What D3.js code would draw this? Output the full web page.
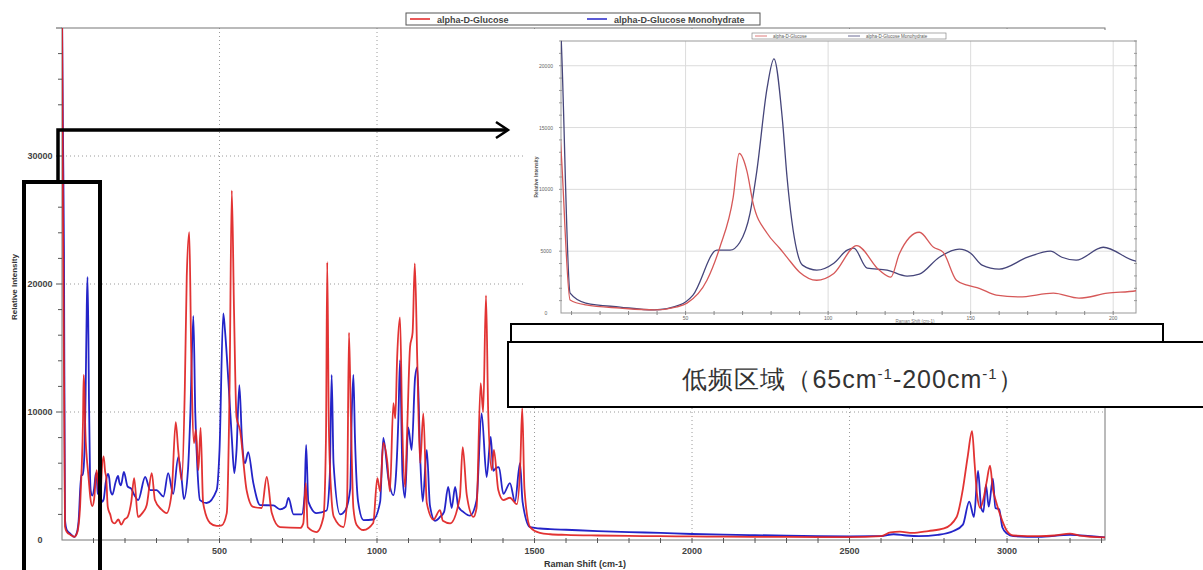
<!DOCTYPE html>
<html>
<head>
<meta charset="utf-8">
<script src="https://cdn.jsdelivr.net/npm/d3@7"></script>
<style>
  body { margin: 0; background: #fff; }
  svg text { font-family: "Liberation Sans", Arial, sans-serif; }
</style>
</head>
<body>
<svg id="chart" width="1203" height="570"></svg>
<script>
// Raman spectra, [shift cm-1, relative intensity]
const glucose = [
  [0, 42000], [3, 26000], [6.5, 12500], [9.5, 1050], [15, 650], [27, 400], [39, 250], [47, 500],
  [50.5, 800], [57.5, 2650], [62, 5300], [66.7, 9350], [68.8, 12900], [71.5, 11500], [73.7, 8870],
  [78.6, 6450], [83, 5240], [85.6, 4500], [90, 3300], [96, 2650], [102, 3200], [110, 5450],
  [118, 3450], [122, 2900], [125, 4800], [132, 6530], [137, 5320], [140.4, 4900], [145, 2650],
  [148.8, 2250], [153, 2000], [159, 1450], [167, 1300], [179, 1600], [188, 1200], [198, 1600],
  [208, 1800], [220, 3000], [229, 4840], [241, 1800], [255, 2100], [269, 2730], [285, 5230],
  [295, 3120], [315, 2400], [332, 2100], [348, 3670], [361, 9200], [369, 7000], [380, 4690],
  [390, 12000], [396, 20540], [404, 24050], [410, 15000], [419, 7580], [425, 8600], [433, 5470],
  [440, 8750], [448, 2900], [470, 1330], [491, 1100], [507, 1150], [523, 2100], [532, 12000],
  [539, 27300], [546, 18000], [554, 9600], [565, 8600], [586, 3900], [607, 2580], [634, 2500],
  [650, 4920], [666, 2100], [692, 1000], [756, 940], [766, 1300], [774, 4450], [780, 1000],
  [808, 620], [830, 1800], [838, 8000], [842, 21700], [847, 9000], [855, 3500], [863, 1800],
  [893, 1000], [905, 3000], [911, 16200], [917, 9600], [925, 2500], [935, 1200], [957, 780],
  [988, 1330], [1001, 4840], [1010, 3800], [1020, 7580], [1033, 6000], [1041, 3800], [1052, 10700],
  [1058, 9500], [1064, 14300], [1073, 17400], [1080, 9000], [1089, 4140], [1095, 8000], [1105, 15100],
  [1113, 16200], [1120, 21600], [1128, 13800], [1137, 6000], [1147, 9900], [1158, 2900], [1179, 1600],
  [1200, 2340], [1209, 1500], [1232, 1300], [1263, 3360], [1272, 7260], [1285, 3500], [1306, 1800],
  [1316, 2500], [1329, 12260], [1337, 10000], [1346, 19100], [1353, 10000], [1364, 5470], [1371, 7030],
  [1385, 3900], [1401, 3120], [1422, 3300], [1444, 2800], [1455, 6000], [1461, 10300], [1468, 4000],
  [1486, 1000], [1517, 550], [1550, 450], [1600, 400], [1700, 350], [1800, 320], [1900, 300],
  [2000, 280], [2100, 260], [2200, 250], [2300, 240], [2400, 230], [2500, 230], [2600, 300],
  [2630, 600], [2660, 650], [2700, 550], [2750, 700], [2800, 900], [2840, 1800], [2860, 4000],
  [2875, 6500], [2889, 8500], [2897, 6000], [2905, 3500], [2915, 2500], [2925, 3200], [2935, 4500],
  [2946, 5800], [2955, 4000], [2965, 3000], [2975, 2200], [2985, 1500], [3000, 700], [3020, 350],
  [3100, 300], [3150, 350], [3200, 500], [3230, 350], [3311, 200]
];
const monohydrate = [
  [0, 42000], [3, 32000], [6.3, 22500], [9.5, 1600], [15, 800], [27, 480], [39, 250], [48, 650],
  [52.6, 1450], [61, 5080], [65.6, 5080], [69, 5700], [72.6, 8060], [75, 11500], [78.6, 18200],
  [81, 20550], [83.9, 15800], [85.6, 10960], [89, 5080], [91, 3870], [96, 3470], [102, 4030],
  [106.7, 5080], [109, 5240], [113.7, 3630], [120.7, 3470], [127.7, 2980], [132, 3140], [139, 4510],
  [146, 5160], [150, 4840], [154, 3870], [160, 3550], [170, 4510], [178, 5000], [182, 4510],
  [187, 4270], [196.5, 5320], [208, 4190], [220, 4000], [230, 3500], [242, 3120], [264, 4920],
  [280, 3900], [300, 3900], [322, 3400], [337, 5230], [353, 3600], [369, 6480], [380, 4700],
  [387, 3200], [400, 5500], [407, 9500], [417, 17500], [423, 10000], [430, 5500], [438, 3120],
  [459, 2890], [491, 3900], [500, 7000], [512, 17700], [517, 16500], [528, 12500], [539, 8000],
  [547, 5230], [554, 7000], [563, 12100], [571, 8000], [581, 6000], [591, 6870], [607, 4500],
  [629, 2730], [671, 2700], [692, 2400], [710, 2600], [719, 3280], [735, 2000], [761, 2000],
  [770, 3500], [775, 7420], [782, 3000], [808, 2100], [840, 2300], [850, 5000], [856, 12890],
  [862, 6000], [883, 2000], [899, 2300], [915, 4000], [920, 10000], [925, 12890], [930, 8000],
  [940, 3000], [957, 1560], [988, 1600], [1010, 3000], [1020, 7970], [1036, 4840], [1052, 3500],
  [1060, 5000], [1068, 9600], [1073, 14050], [1081, 5000], [1089, 3300], [1099, 8800], [1110, 7030],
  [1121, 12730], [1128, 13500], [1137, 6500], [1145, 3000], [1158, 7030], [1168, 2700], [1184, 1500],
  [1200, 1800], [1213, 2200], [1226, 4140], [1237, 2500], [1248, 4140], [1258, 2600], [1274, 2200],
  [1295, 1900], [1316, 3100], [1332, 9900], [1348, 4920], [1361, 8050], [1369, 5400], [1377, 5600],
  [1387, 5700], [1401, 3600], [1422, 4450], [1438, 3000], [1454, 6000], [1462, 3000], [1486, 1000],
  [1517, 900], [1550, 850], [1600, 800], [1700, 700], [1800, 620], [1900, 550], [2000, 470],
  [2100, 420], [2200, 380], [2300, 340], [2400, 310], [2500, 290], [2600, 300], [2640, 450],
  [2680, 350], [2720, 300], [2780, 400], [2830, 700], [2860, 1200], [2880, 3000], [2895, 1800],
  [2908, 5400], [2918, 2500], [2925, 2200], [2933, 4300], [2942, 2600], [2955, 4800], [2963, 2500],
  [2975, 2400], [2985, 1000], [3000, 500], [3020, 300], [3100, 250], [3200, 400], [3311, 200]
];
const seriesNames = ["alpha-D-Glucose", "alpha-D-Glucose Monohydrate"];
const mainXTicks = [500, 1000, 1500, 2000, 2500, 3000];
const mainYTicks = [0, 10000, 20000, 30000];
const lowXTicks = [50, 100, 150, 200];
const lowYTicks = [0, 5000, 10000, 15000, 20000];
const noteText = ["低频区域（65cm", "-1", "-200cm", "-1", "）"];

const svg = d3.select("#chart");

// ---------- main chart ----------
const x = d3.scaleLinear().domain([0, 3311]).range([62, 1105]);
const y = d3.scaleLinear().domain([0, 40000]).range([540, 28]);

svg.append("defs").append("clipPath").attr("id", "mainClip")
  .append("rect").attr("x", 62).attr("y", 28).attr("width", 1043).attr("height", 512);

// dotted grid
svg.append("g").selectAll("line").data(mainXTicks).join("line")
  .attr("x1", d => x(d)).attr("x2", d => x(d)).attr("y1", 28).attr("y2", 540)
  .attr("stroke", "#9a9a9a").attr("stroke-dasharray", "1,3");
svg.append("g").selectAll("line").data(mainYTicks.filter(d => d > 0)).join("line")
  .attr("x1", 62).attr("x2", 1105).attr("y1", d => y(d)).attr("y2", d => y(d))
  .attr("stroke", "#9a9a9a").attr("stroke-dasharray", "1,3");

// frame
svg.append("rect").attr("x", 62).attr("y", 28).attr("width", 1043).attr("height", 512)
  .attr("fill", "none").attr("stroke", "#777").attr("stroke-width", 1);

// minor ticks
svg.append("g").selectAll("line").data(d3.range(100, 3301, 100)).join("line")
  .attr("x1", d => x(d)).attr("x2", d => x(d)).attr("y1", 538).attr("y2", 543)
  .attr("stroke", "#555");
svg.append("g").selectAll("line").data(d3.range(2000, 40001, 2000)).join("line")
  .attr("x1", d => (d % 10000 === 0 ? 56 : 58)).attr("x2", 62)
  .attr("y1", d => y(d)).attr("y2", d => y(d)).attr("stroke", "#555");

// tick labels
svg.append("g").selectAll("text").data(mainXTicks).join("text")
  .attr("x", d => x(d)).attr("y", 554).attr("text-anchor", "middle")
  .attr("font-size", 9).attr("font-weight", "bold").attr("fill", "#444").text(d => d);
svg.append("g").selectAll("text").data(mainYTicks).join("text")
  .attr("x", 40).attr("y", d => y(d) + 3).attr("text-anchor", "middle")
  .attr("font-size", 9).attr("font-weight", "bold").attr("fill", "#444").text(d => d);

svg.append("text").attr("x", 585).attr("y", 567).attr("text-anchor", "middle")
  .attr("font-size", 9).attr("font-weight", "bold").attr("fill", "#333").text("Raman Shift (cm-1)");
svg.append("text").attr("transform", "translate(17,287) rotate(-90)").attr("text-anchor", "middle")
  .attr("font-size", 8).attr("font-weight", "bold").attr("fill", "#333").text("Relative Intensity");

const mainLine = d3.line().x(d => x(d[0])).y(d => y(d[1])).curve(d3.curveMonotoneX);
const mainG = svg.append("g").attr("clip-path", "url(#mainClip)");
mainG.append("path").datum(monohydrate).attr("d", mainLine)
  .attr("fill", "none").attr("stroke", "#2424c8").attr("stroke-width", 1.8);
mainG.append("path").datum(glucose).attr("d", mainLine)
  .attr("fill", "none").attr("stroke", "#e02222").attr("stroke-width", 1.8).attr("opacity", 0.92);

// legend
const leg = svg.append("g");
leg.append("rect").attr("x", 406).attr("y", 13).attr("width", 354).attr("height", 12)
  .attr("fill", "#fff").attr("stroke", "#555");
[["#e02222", 410, 437], ["#2424c8", 587, 614]].forEach((c, i) => {
  leg.append("line").attr("x1", c[1]).attr("x2", c[1] + 20).attr("y1", 19).attr("y2", 19)
    .attr("stroke", c[0]).attr("stroke-width", 1.5);
  leg.append("text").attr("x", c[2]).attr("y", 22.5).attr("font-size", 9)
    .attr("font-weight", "bold").attr("fill", "#444").text(seriesNames[i]);
});

// ---------- low frequency inset ----------
const ix = d3.scaleLinear().domain([6.3, 208]).range([561, 1136]);
const iy = d3.scaleLinear().domain([0, 22000]).range([313, 41]);
const inset = svg.append("g");
inset.append("rect").attr("x", 524).attr("y", 30).attr("width", 618).attr("height", 294).attr("fill", "#fff");
inset.append("clipPath").attr("id", "lowClip")
  .append("rect").attr("x", 561).attr("y", 41).attr("width", 575).attr("height", 272);

inset.append("g").selectAll("line").data(lowXTicks).join("line")
  .attr("x1", d => ix(d)).attr("x2", d => ix(d)).attr("y1", 41).attr("y2", 313)
  .attr("stroke", "#dcdcdc");
inset.append("g").selectAll("line").data(lowYTicks.filter(d => d > 0)).join("line")
  .attr("x1", 561).attr("x2", 1136).attr("y1", d => iy(d)).attr("y2", d => iy(d))
  .attr("stroke", "#dcdcdc");
inset.append("rect").attr("x", 561).attr("y", 41).attr("width", 575).attr("height", 272)
  .attr("fill", "none").attr("stroke", "#999");
inset.append("g").selectAll("line").data(d3.range(10, 201, 10)).join("line")
  .attr("x1", d => ix(d)).attr("x2", d => ix(d)).attr("y1", 311).attr("y2", 315).attr("stroke", "#888");
inset.append("g").selectAll("line").data(d3.range(1000, 22001, 1000)).join("line")
  .attr("x1", 559).attr("x2", 562).attr("y1", d => iy(d)).attr("y2", d => iy(d)).attr("stroke", "#999");
inset.append("g").selectAll("line").data(d3.range(1000, 22001, 1000)).join("line")
  .attr("x1", 1134).attr("x2", 1137).attr("y1", d => iy(d)).attr("y2", d => iy(d)).attr("stroke", "#999");
inset.append("g").selectAll("text").data(lowXTicks).join("text")
  .attr("x", d => ix(d)).attr("y", 320).attr("text-anchor", "middle")
  .attr("font-size", 5).attr("fill", "#666").text(d => d);
inset.append("g").selectAll("text").data(lowYTicks).join("text")
  .attr("x", 546).attr("y", d => iy(d) + 2).attr("text-anchor", "middle")
  .attr("font-size", 5).attr("fill", "#666").text(d => d);
inset.append("text").attr("transform", "translate(538,177) rotate(-90)").attr("text-anchor", "middle")
  .attr("font-size", 5).attr("font-weight", "bold").attr("fill", "#555").text("Relative Intensity");
inset.append("text").attr("x", 915).attr("y", 322.5).attr("text-anchor", "middle")
  .attr("font-size", 4.5).attr("fill", "#777").text("Raman Shift (cm-1)");

const lowLine = d3.line().x(d => ix(d[0])).y(d => iy(d[1])).curve(d3.curveMonotoneX);
const lowG = inset.append("g").attr("clip-path", "url(#lowClip)");
lowG.append("path").datum(monohydrate.filter(d => d[0] <= 240)).attr("d", lowLine)
  .attr("fill", "none").attr("stroke", "#45457a").attr("stroke-width", 1.3);
lowG.append("path").datum(glucose.filter(d => d[0] <= 240)).attr("d", lowLine)
  .attr("fill", "none").attr("stroke", "#d65858").attr("stroke-width", 1.3);

const ileg = inset.append("g");
ileg.append("rect").attr("x", 752).attr("y", 33).attr("width", 194).attr("height", 6)
  .attr("fill", "#fff").attr("stroke", "#888").attr("stroke-width", 0.7);
[["#d65858", 755, 773], ["#45457a", 848, 866]].forEach((c, i) => {
  ileg.append("line").attr("x1", c[1]).attr("x2", c[1] + 12).attr("y1", 36).attr("y2", 36)
    .attr("stroke", c[0]).attr("stroke-width", 0.8);
  ileg.append("text").attr("x", c[2]).attr("y", 37.8).attr("font-size", 4.5)
    .attr("fill", "#555").text(seriesNames[i]);
});

// ---------- annotation ----------
const note = svg.append("g");
note.append("rect").attr("x", 24).attr("y", 182).attr("width", 76).attr("height", 420)
  .attr("fill", "none").attr("stroke", "#000").attr("stroke-width", 4);
note.append("path").attr("d", "M58,182V130H506")
  .attr("fill", "none").attr("stroke", "#000").attr("stroke-width", 3.5);
note.append("path").attr("d", "M496,122L508,130L496,138")
  .attr("fill", "none").attr("stroke", "#000").attr("stroke-width", 2.5);

note.append("rect").attr("x", 511).attr("y", 324).attr("width", 652).attr("height", 30)
  .attr("fill", "#fff").attr("stroke", "#000").attr("stroke-width", 2);
note.append("rect").attr("x", 508).attr("y", 342).attr("width", 710).attr("height", 65)
  .attr("fill", "#fff").attr("stroke", "#000").attr("stroke-width", 2);
const label = note.append("text").attr("x", 853).attr("y", 388).attr("text-anchor", "middle")
  .attr("font-family", "'Noto Sans CJK SC', 'Noto Sans', sans-serif")
  .attr("font-size", 25).attr("letter-spacing", 1).attr("fill", "#333");
noteText.forEach((t, i) => {
  const sup = i === 1 || i === 3;
  label.append("tspan").attr("font-size", sup ? 15 : 25)
    .attr("dy", sup ? -9 : (i > 0 ? 9 : 0)).text(t);
});
</script>
</body>
</html>
